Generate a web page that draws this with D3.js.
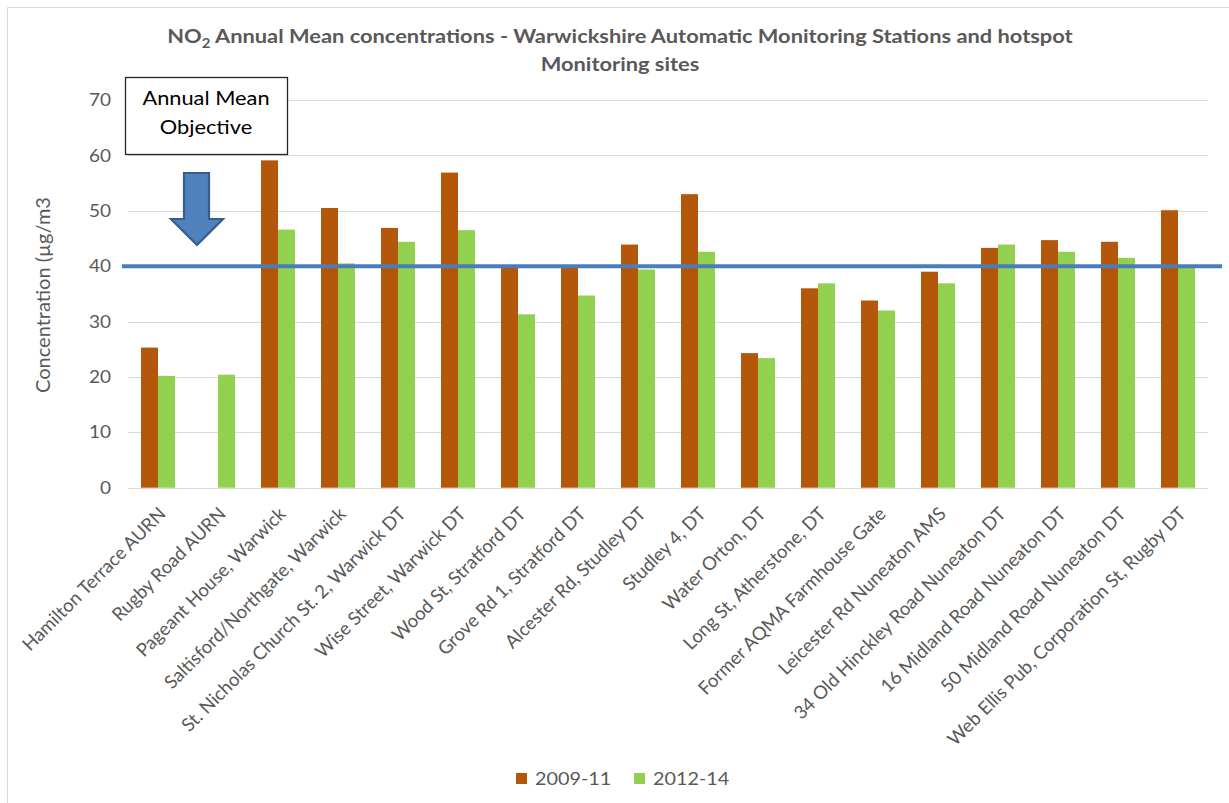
<!DOCTYPE html>
<html><head><meta charset="utf-8">
<script src="https://cdn.jsdelivr.net/npm/d3@7"></script>
<style>
html,body{margin:0;padding:0;background:#fff;}
svg{display:block;font-family:Lato,"Open Sans",sans-serif;}
</style></head>
<body>
<svg id="chart" width="1229" height="803"></svg>
<script>
const categories = ["Hamilton Terrace AURN","Rugby Road AURN","Pageant House, Warwick","Saltisford/Northgate, Warwick","St. Nicholas Church St. 2, Warwick DT","Wise Street, Warwick DT","Wood St, Stratford DT","Grove Rd 1, Stratford DT","Alcester Rd, Studley DT","Studley 4, DT","Water Orton, DT","Long St, Atherstone, DT","Former AQMA Farmhouse Gate","Leicester Rd Nuneaton AMS","34 Old Hinckley Road Nuneaton DT","16 Midland Road Nuneaton DT","50 Midland Road Nuneaton DT","Web Ellis Pub, Corporation St, Rugby DT"];
const seriesNames = ["2009-11","2012-14"];
const values2009_11 = [25.3,null,59.1,50.5,46.9,56.9,40.0,39.9,43.9,53.0,24.3,36.0,33.8,39.0,43.3,44.7,44.4,50.1];
const values2012_14 = [20.2,20.4,46.6,40.5,44.4,46.5,31.3,34.7,39.4,42.6,23.4,36.9,32.0,36.9,43.9,42.6,41.5,40.0];
const yTicks = [0,10,20,30,40,50,60,70];
const objective = 40;
const colors = ["#b5570a","#92d050"];
const titleLine1 = ["NO","2"," Annual Mean concentrations - Warwickshire Automatic Monitoring Stations and hotspot"];
const titleLine2 = "Monitoring sites";
const yTitle = "Concentration (µg/m3";
const annotation = ["Annual Mean","Objective"];

const svg = d3.select("#chart");
const textCol = "#595959";
const SX = 1.12;

// outer border (top and left visible)
svg.append("line").attr("x1",7.5).attr("x2",1229).attr("y1",7.5).attr("y2",7.5).attr("stroke","#d9d9d9").attr("stroke-width",1);
svg.append("line").attr("x1",7.5).attr("x2",7.5).attr("y1",7.5).attr("y2",803).attr("stroke","#d9d9d9").attr("stroke-width",1);

const x0 = d3.scaleBand().domain(categories).range([128,1208]).paddingInner(26/60).paddingOuter(13/60);
const x1 = d3.scaleBand().domain(seriesNames).range([0,x0.bandwidth()]);
const y = d3.scaleLinear().domain([0,70]).range([487.7,100]);

// gridlines
svg.append("g").selectAll("line").data(yTicks).join("line")
  .attr("x1",128).attr("x2",1208)
  .attr("y1",d=>Math.round(y(d))+0.5).attr("y2",d=>Math.round(y(d))+0.5)
  .attr("stroke","#d9d9d9").attr("stroke-width",1.2);

// y tick labels
svg.append("g").selectAll("text").data(yTicks).join("text")
  .attr("transform",d=>`translate(111,${y(d)}) scale(${SX},1)`)
  .attr("dy","0.36em")
  .attr("text-anchor","end").attr("fill",textCol).attr("font-size",17)
  .text(d=>d);

// y title
svg.append("text").attr("transform","translate(50,295) rotate(-90)")
  .attr("text-anchor","middle").attr("fill",textCol).attr("font-size",20)
  .text(yTitle);

// bars
const rows = categories.map((c,i)=>({cat:c, vals:[values2009_11[i], values2012_14[i]]}));
const g = svg.append("g");
rows.forEach(r=>{
  r.vals.forEach((v,j)=>{
    if(v==null) return;
    g.append("rect")
      .attr("x",x0(r.cat)+x1(seriesNames[j]))
      .attr("y",y(v))
      .attr("width",x1.bandwidth())
      .attr("height",y(0)-y(v))
      .attr("fill",colors[j]);
  });
});

// objective line
svg.append("line").attr("x1",122).attr("x2",1222).attr("y1",y(objective)).attr("y2",y(objective))
  .attr("stroke","#4a7ebb").attr("stroke-width",4);

// x labels
svg.append("g").selectAll("text").data(categories).join("text")
  .attr("transform",d=>`translate(${x0(d)+x0.bandwidth()/2+9},515) rotate(-45)`)
  .attr("text-anchor","end")
  .attr("fill",textCol).attr("font-size",18.5)
  .text(d=>d);

// annotation box
svg.append("rect").attr("x",125.5).attr("y",77.5).attr("width",162).attr("height",77)
  .attr("fill","#fff").attr("stroke","#262626").attr("stroke-width",1.3);
svg.append("text").attr("transform",`translate(206,105) scale(1.09,1)`).attr("text-anchor","middle").attr("font-size",20).attr("fill","#000").text(annotation[0]);
svg.append("text").attr("transform",`translate(206,134) scale(1.09,1)`).attr("text-anchor","middle").attr("font-size",20).attr("fill","#000").text(annotation[1]);

// arrow
svg.append("path").attr("d","M184,173 L209,173 L209,219 L223,219 L197,245 L171,219 L184,219 Z")
  .attr("fill","#4f81bd").attr("stroke","#385d8a").attr("stroke-width",2.2).attr("stroke-linejoin","miter");

// title
const t1 = svg.append("text").attr("transform",`translate(620,43) scale(1.15,1)`).attr("text-anchor","middle")
  .attr("font-weight","bold").attr("font-size",19).attr("fill",textCol);
t1.append("tspan").text(titleLine1[0]);
t1.append("tspan").attr("font-size",13).attr("dy",5).text(titleLine1[1]);
t1.append("tspan").attr("dy",-5).text(titleLine1[2]);
svg.append("text").attr("transform",`translate(620,71) scale(1.15,1)`).attr("text-anchor","middle")
  .attr("font-weight","bold").attr("font-size",19).attr("fill",textCol).text(titleLine2);

// legend
const lx = [516,634];
seriesNames.forEach((s,j)=>{
  svg.append("rect").attr("x",lx[j]).attr("y",773).attr("width",11).attr("height",11).attr("fill",colors[j]);
  svg.append("text").attr("transform",`translate(${lx[j]+19},785) scale(1.1,1)`).attr("font-size",18).attr("fill",textCol).text(s);
});
</script>
</body></html>
